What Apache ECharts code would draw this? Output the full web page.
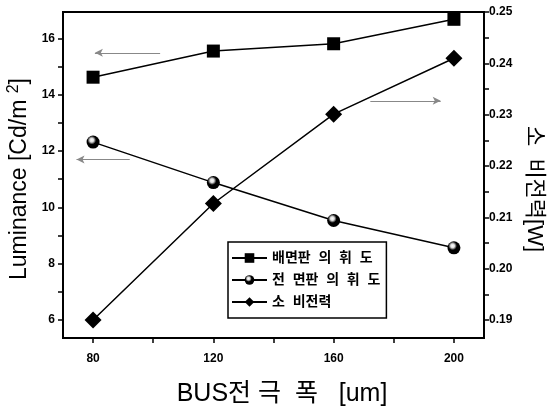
<!DOCTYPE html>
<html><head><meta charset="utf-8">
<script src="https://cdn.jsdelivr.net/npm/echarts@6/dist/echarts.min.js"></script>
<style>html,body{margin:0;padding:0;background:#fff}#c{width:551px;height:413px}</style>
</head><body><div id="c"></div>
<script>
const xValues = [80, 120, 160, 200];
const rearLuminance = [14.63, 15.56, 15.82, 16.69];
const frontLuminance = [12.32, 10.88, 9.53, 8.56];
const powerConsumption = [0.190, 0.2127, 0.2301, 0.2410];
const seriesNames = ['배면판  의  휘  도', '전  면판  의  휘  도', '소  비전력'];
const xTickLabels = [80, 120, 160, 200];
const xTicks = [80, 100, 120, 140, 160, 180, 200];
const leftTickLabels = [6, 8, 10, 12, 14, 16];
const leftTicks = [6, 7, 8, 9, 10, 11, 12, 13, 14, 15, 16];
const rightTickLabels = [0.19, 0.20, 0.21, 0.22, 0.23, 0.24, 0.25];
const rightTicks = [0.19, 0.195, 0.20, 0.205, 0.21, 0.215, 0.22, 0.225, 0.23, 0.235, 0.24, 0.245, 0.25];
// annotation arrows [xStart, xEnd, y]
const arrowRear = [102.3, 80.6, 15.5];
const arrowFront = [92.2, 74.5, 11.7];
const arrowPower = [172.2, 195.6, 0.2327];

const font = 'Liberation Sans, Arial, sans-serif';
const cjk = '"Liberation Sans", "Noto Sans CJK KR", sans-serif';

const chart = echarts.init(document.getElementById('c'), null, {renderer: 'canvas'});
const pairs = a => xValues.map((x, i) => [x, a[i]]);
const arrow = (a) => ({
  silent: true, symbolSize: [6, 8],
  lineStyle: {color: '#888', width: 1, type: 'solid'},
  label: {show: false},
  data: [[{coord: [a[0], a[2]], symbol: 'none'}, {coord: [a[1], a[2]], symbol: 'arrow'}]]
});
const sphere = {type: 'radial', x: 0.4, y: 0.35, r: 0.6,
  colorStops: [{offset: 0, color: '#fff'}, {offset: 0.25, color: '#ddd'}, {offset: 0.55, color: '#000'}, {offset: 1, color: '#000'}]};
const tickLabel = {color: '#000', fontFamily: font, fontWeight: 'bold', fontSize: 12};

chart.setOption({
  animation: false,
  backgroundColor: '#fff',
  grid: {left: 63, right: 67, top: 12, bottom: 75, show: true, borderColor: '#000', borderWidth: 2,
         outerBoundsMode: 'none', containLabel: false},
  legend: {
    orient: 'vertical', left: 228, top: 242,
    data: seriesNames,
    itemWidth: 35, itemHeight: 12, itemGap: 8,
    borderColor: '#000', borderWidth: 1.5, padding: [9, 6, 9, 3],
    textStyle: {fontFamily: cjk, fontWeight: 'bold', fontSize: 14, color: '#000'}
  },
  xAxis: {
    type: 'value', min: 70, max: 210,
    name: 'BUS전 극  폭   [um]', nameLocation: 'middle', nameGap: 44,
    nameTextStyle: {fontFamily: cjk, fontSize: 25, color: '#000', padding: [0, 0, 0, 17]},
    axisLine: {lineStyle: {color: '#000', width: 2}},
    axisTick: {length: 5, customValues: xTicks, lineStyle: {color: '#000', width: 1.5}},
    splitLine: {show: false},
    axisLabel: Object.assign({margin: 15, customValues: xTickLabels}, tickLabel)
  },
  yAxis: [{
    type: 'value', min: 5.35, max: 16.95,
    name: '{a|Luminance [Cd/m }{s|2}{a|]}', nameLocation: 'middle', nameGap: 29, nameRotate: 90,
    nameTextStyle: {padding: [0, 0, 0, -8], rich: {a: {fontFamily: font, fontSize: 23, color: '#000'},
                           s: {fontFamily: font, fontSize: 16, color: '#000', verticalAlign: 'top', padding: [0, 0, 12, 0]}}},
    axisLine: {lineStyle: {color: '#000', width: 2}},
    axisTick: {length: 5, customValues: leftTicks, lineStyle: {color: '#000', width: 1.5}},
    splitLine: {show: false},
    axisLabel: Object.assign({margin: 8, customValues: leftTickLabels}, tickLabel)
  }, {
    type: 'value', min: 0.1865, max: 0.25,
    name: '소  비전력[W]', nameLocation: 'middle', nameGap: 34, nameRotate: -90,
    nameTextStyle: {fontFamily: cjk, fontSize: 22, color: '#000', padding: [0, 0, 0, 28]},
    axisLine: {lineStyle: {color: '#000', width: 2}},
    axisTick: {length: 5, customValues: rightTicks, lineStyle: {color: '#000', width: 1.5}},
    splitLine: {show: false},
    axisLabel: Object.assign({margin: 5, customValues: rightTickLabels, formatter: v => v.toFixed(2)}, tickLabel)
  }],
  series: [{
    name: seriesNames[0], type: 'line', yAxisIndex: 0, data: pairs(rearLuminance),
    symbol: 'rect', symbolSize: 13, itemStyle: {color: '#000'}, lineStyle: {color: '#000', width: 1.5},
    markLine: arrow(arrowRear)
  }, {
    name: seriesNames[1], type: 'line', yAxisIndex: 0, data: pairs(frontLuminance),
    symbol: 'circle', symbolSize: 13, itemStyle: {color: sphere}, lineStyle: {color: '#000', width: 1.5},
    markLine: arrow(arrowFront)
  }, {
    name: seriesNames[2], type: 'line', yAxisIndex: 1, data: pairs(powerConsumption),
    symbol: 'diamond', symbolSize: 17, itemStyle: {color: '#000'}, lineStyle: {color: '#000', width: 1.5},
    markLine: arrow(arrowPower)
  }]
});
</script></body></html>
